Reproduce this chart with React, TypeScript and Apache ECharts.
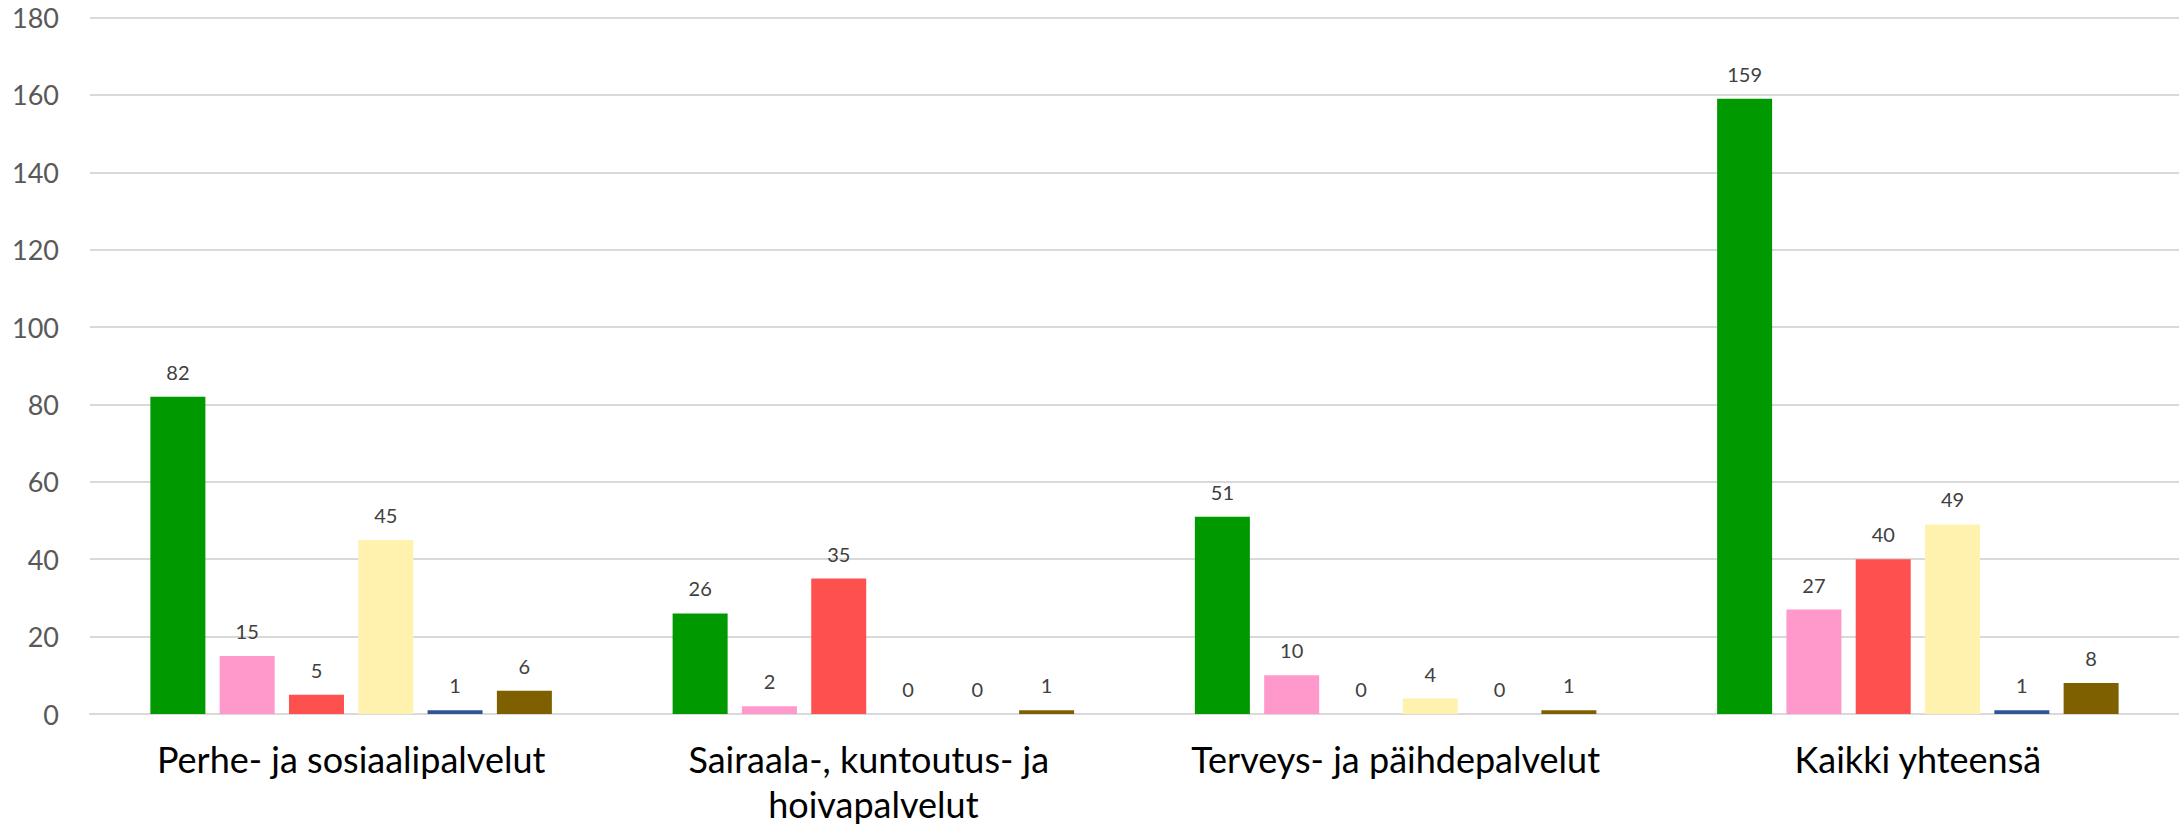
import React, { useEffect, useRef } from "react";
import * as echarts from "echarts";

const categories = [
  "Perhe- ja sosiaalipalvelut",
  "Sairaala-, kuntoutus- ja hoivapalvelut",
  "Terveys- ja päihdepalvelut",
  "Kaikki yhteensä",
];
const yTicks = { min: 0, max: 180, interval: 20 };

const seriesGreen = [82, 26, 51, 159];
const seriesPink = [15, 2, 10, 27];
const seriesRed = [5, 35, 0, 40];
const seriesYellow = [45, 0, 4, 49];
const seriesBlue = [1, 0, 0, 1];
const seriesBrown = [6, 1, 1, 8];

const seriesList = [
  { name: "Sarja 1", data: seriesGreen, color: "#009900" },
  { name: "Sarja 2", data: seriesPink, color: "#FF99CC" },
  { name: "Sarja 3", data: seriesRed, color: "#FF5050" },
  { name: "Sarja 4", data: seriesYellow, color: "#FFF2AE" },
  { name: "Sarja 5", data: seriesBlue, color: "#2F5597" },
  { name: "Sarja 6", data: seriesBrown, color: "#7F6000" },
];

const FONT = "Lato, 'Open Sans', sans-serif";

export default function App() {
  const ref = useRef<HTMLDivElement>(null);
  useEffect(() => {
    document.body.style.margin = "0";
    if (!ref.current) return;
    const chart = echarts.init(ref.current, null, { renderer: "svg" });
    chart.setOption({
      animation: false,
      backgroundColor: "#ffffff",
      grid: {
        left: 90,
        right: 0,
        top: 17.5,
        bottom: 111,
        containLabel: false,
        outerBoundsMode: "none",
      },
      xAxis: {
        type: "category",
        data: categories,
        axisTick: { show: false },
        axisLine: { show: true, lineStyle: { color: "#D9D9D9", width: 2 } },
        axisLabel: {
          color: "#000000",
          fontFamily: FONT,
          fontSize: 36,
          lineHeight: 45,
          margin: 22,
          interval: 0,
          width: 450,
          overflow: "break",
        },
      },
      yAxis: {
        type: "value",
        min: yTicks.min,
        max: yTicks.max,
        interval: yTicks.interval,
        axisLine: { show: false },
        axisTick: { show: false },
        splitLine: { lineStyle: { color: "#D9D9D9", width: 2 } },
        axisLabel: {
          color: "#595959",
          fontFamily: FONT,
          fontSize: 27,
          margin: 31,
        },
      },
      series: seriesList.map((s) => ({
        type: "bar",
        name: s.name,
        data: s.data,
        barWidth: 55,
        barGap: "26%",
        itemStyle: { color: s.color },
        label: {
          show: true,
          position: "top",
          distance: 15,
          color: "#404040",
          fontFamily: FONT,
          fontSize: 20,
        },
      })),
    });
    return () => chart.dispose();
  }, []);
  return <div ref={ref} style={{ width: 2179, height: 825 }} />;
}
